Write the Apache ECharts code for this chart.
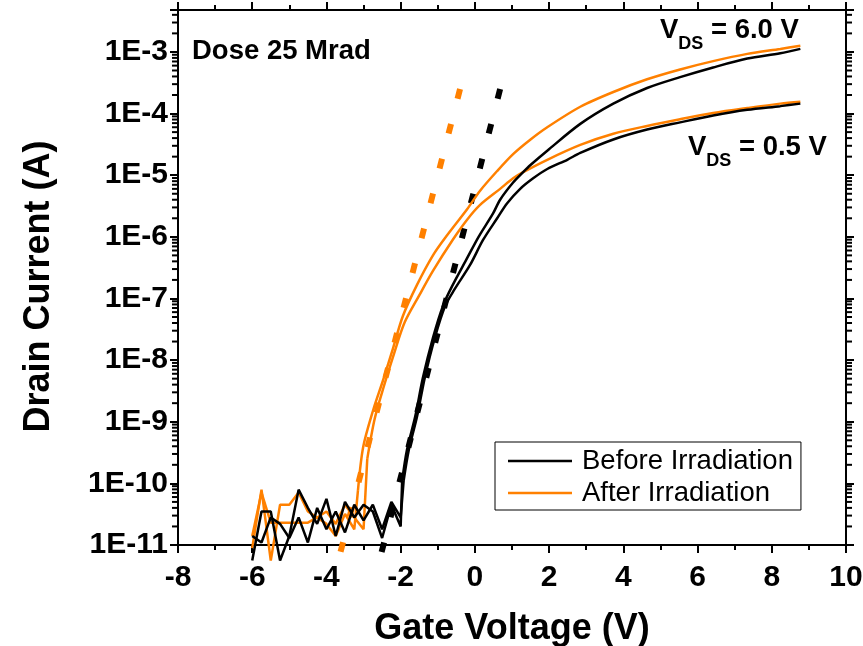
<!DOCTYPE html>
<html>
<head>
<meta charset="utf-8">
<script src="https://cdn.jsdelivr.net/npm/echarts@6/dist/echarts.min.js"></script>
<style>
html,body{margin:0;padding:0;background:#fff;}
#chart{width:863px;height:646px;}
</style>
</head>
<body>
<div id="chart"></div>
<script>
// ---- Data ----
const xTicks = [-8, -6, -4, -2, 0, 2, 4, 6, 8, 10];
const yTickExponents = [-11, -10, -9, -8, -7, -6, -5, -4, -3];

// Before irradiation, V_DS = 6.0 V : off-state (noise) part and turn-on part
const vgBefore6Off = [-6, -5.75, -5.5, -5.25, -5, -4.75, -4.5, -4.25, -4, -3.75, -3.5, -3.25, -3, -2.75, -2.5, -2.25, -2.0, -1.96];
const idBefore6Off = [5.6e-12, 3.5e-11, 3.5e-11, 5.6e-12, 1.4e-11, 7.9e-11, 4.0e-11, 2.2e-11, 5.6e-11, 1.4e-11, 5.0e-11, 2.8e-11, 4.5e-11, 3.5e-11, 1.3e-11, 4.5e-11, 2.0e-11, 1.1e-10];
const vgBefore6On = [-1.96, -1.83, -1.61, -1.40, -1.13, -0.86, -0.61, -0.21, 0.1, 0.49, 0.68, 1.03, 1.3, 1.49, 1.95, 2.84, 3.73, 4.64, 5.53, 6.42, 7.34, 8.23, 8.77];
const idBefore6On = [1.1e-10, 3.5e-10, 1.2e-9, 5.2e-9, 2.3e-8, 7.6e-8, 1.6e-7, 4.5e-7, 1.0e-6, 2.4e-6, 4.0e-6, 7.6e-6, 1.12e-5, 1.45e-5, 2.5e-5, 6.8e-5, 1.45e-4, 2.6e-4, 3.9e-4, 5.6e-4, 7.8e-4, 9.5e-4, 1.12e-3];

// Before irradiation, V_DS = 0.5 V
const vgBefore05Off = [-6, -5.75, -5.5, -5.25, -5, -4.75, -4.5, -4.25, -4, -3.75, -3.5, -3.25, -3, -2.75, -2.5, -2.25, -2.0, -1.92];
const idBefore05Off = [1.4e-11, 1.1e-11, 2.8e-11, 2.2e-11, 1.3e-11, 2.8e-11, 1.1e-11, 4.0e-11, 1.8e-11, 3.5e-11, 1.6e-11, 4.5e-11, 2.5e-11, 4.5e-11, 1.8e-11, 5.0e-11, 2.8e-11, 1.1e-10];
const vgBefore05On = [-1.92, -1.78, -1.56, -1.35, -1.08, -0.80, -0.55, -0.13, 0.22, 0.6, 0.87, 1.22, 1.57, 1.95, 2.49, 2.84, 3.73, 4.64, 5.53, 6.42, 7.34, 8.23, 8.77];
const idBefore05On = [1.1e-10, 3.5e-10, 1.2e-9, 5.2e-9, 2.3e-8, 7.6e-8, 1.4e-7, 3.5e-7, 8.9e-7, 2.0e-6, 3.5e-6, 6.0e-6, 8.9e-6, 1.26e-5, 1.78e-5, 2.3e-5, 3.8e-5, 5.5e-5, 7.2e-5, 9.3e-5, 1.15e-4, 1.32e-4, 1.45e-4];

// After irradiation, V_DS = 6.0 V
const vgAfter6Off = [-6, -5.75, -5.5, -5.25, -5, -4.75, -4.5, -4.25, -4, -3.75, -3.5, -3.25, -3.15];
const idAfter6Off = [8.9e-12, 7.9e-11, 5.6e-12, 4.5e-11, 4.5e-11, 7.1e-11, 3.5e-11, 2.8e-11, 2.2e-11, 1.4e-11, 3.2e-11, 1.8e-11, 7.8e-11];
const vgAfter6On = [-3.15, -3.01, -2.74, -2.47, -2.20, -1.94, -1.56, -1.13, -0.78, -0.21, 0.14, 0.6, 1.03, 1.5, 1.95, 2.84, 3.73, 4.64, 5.53, 6.42, 7.34, 8.23, 8.77];
const idAfter6On = [7.8e-11, 3.9e-10, 1.55e-9, 4.8e-9, 1.6e-8, 5.2e-8, 1.66e-7, 5.0e-7, 1.0e-6, 2.8e-6, 5.6e-6, 1.17e-5, 2.2e-5, 3.8e-5, 6.0e-5, 1.29e-4, 2.24e-4, 3.6e-4, 5.2e-4, 7.1e-4, 9.3e-4, 1.12e-3, 1.26e-3];

// After irradiation, V_DS = 0.5 V
const vgAfter05Off = [-6, -5.75, -5.5, -5.25, -5, -4.75, -4.5, -4.25, -4, -3.75, -3.5, -3.25, -3.0, -2.9];
const idAfter05Off = [1.4e-11, 7.1e-11, 2.3e-11, 2.3e-11, 2.3e-11, 2.3e-11, 2.3e-11, 2.8e-11, 3.5e-11, 2.2e-11, 4.5e-11, 2.8e-11, 1.8e-11, 2.5e-10];
const vgAfter05On = [-2.9, -2.70, -2.45, -2.18, -1.90, -1.50, -1.13, -0.6, -0.21, 0.14, 0.68, 1.03, 1.3, 1.95, 2.84, 3.73, 4.64, 5.53, 6.42, 7.34, 8.23, 8.77];
const idAfter05On = [2.5e-10, 1.12e-9, 3.8e-9, 1.26e-8, 4.0e-8, 1.12e-7, 2.8e-7, 8.9e-7, 1.9e-6, 3.3e-6, 6.0e-6, 8.9e-6, 1.12e-5, 1.78e-5, 3.1e-5, 4.7e-5, 6.3e-5, 8.1e-5, 1.02e-4, 1.23e-4, 1.45e-4, 1.55e-4];

// Subthreshold slope fit lines (end points)
const vgFitBefore = [0.68, -2.55];
const idFitBefore = [2.5e-4, 6.3e-12];
const vgFitAfter = [-0.40, -3.68];
const idFitAfter = [2.5e-4, 5.6e-12];

const yMin = 1e-11, yMax = 4.79e-3;
// ---- end data ----

const FONT = "'Liberation Sans', Arial, sans-serif";
const ORANGE = '#FF8000';
const pairs = (xs, ys) => xs.map((x, i) => [x, ys[i]]);
const xL = xTicks[0], xR = xTicks[xTicks.length - 1];

// log minor tick values 2..9 x 10^n
const minorTickVals = [];
for (let e = yTickExponents[0]; e <= yTickExponents[yTickExponents.length - 1]; e++) {
  for (let m = 2; m <= 9; m++) {
    const v = m * Math.pow(10, e);
    if (v < yMax) minorTickVals.push(v);
  }
}

const chart = echarts.init(document.getElementById('chart'), null, {renderer: 'canvas'});

function xAxisCfg(pos, showLabel) {
  return {
    type: 'value', position: pos, min: xL, max: xR, interval: 2,
    axisLine: {show: true, onZero: false, lineStyle: {color: '#000', width: 2}},
    axisTick: {show: true, length: 8, lineStyle: {color: '#000', width: 2}},
    minorTick: {show: true, splitNumber: 2, length: 5, lineStyle: {color: '#000', width: 2}},
    splitLine: {show: false}, minorSplitLine: {show: false},
    axisLabel: {show: showLabel, margin: 18, color: '#000', fontFamily: FONT, fontWeight: 'bold', fontSize: 30},
    name: showLabel ? 'Gate Voltage (V)' : '',
    nameLocation: 'middle', nameGap: 66,
    nameTextStyle: {color: '#000', fontFamily: FONT, fontWeight: 'bold', fontSize: 36}
  };
}
function yAxisCfg(pos, showLabel) {
  return {
    type: 'log', logBase: 10, position: pos, min: yMin, max: yMax, splitNumber: 10,
    axisLine: {show: true, onZero: false, lineStyle: {color: '#000', width: 2}},
    axisTick: {show: true, length: 8, lineStyle: {color: '#000', width: 2}},
    splitLine: {show: false},
    axisLabel: {
      show: showLabel, margin: 10, color: '#000', fontFamily: FONT, fontWeight: 'bold', fontSize: 30,
      formatter: function (v) {
        const e = Math.log10(v), r = Math.round(e);
        return Math.abs(e - r) < 1e-6 ? '1E' + r : '';
      }
    },
    name: showLabel ? 'Drain Current (A)' : '',
    nameLocation: 'middle', nameGap: 121,
    nameTextStyle: {color: '#000', fontFamily: FONT, fontWeight: 'bold', fontSize: 36, padding: [0, 18, 0, 0]}
  };
}

function lineSeries(name, xs, ys, color, smooth) {
  return {
    name: name, type: 'line', data: pairs(xs, ys), showSymbol: false, symbol: 'none', clip: false,
    smooth: smooth ? 0.3 : false,
    lineStyle: {color: color, width: 2.5}, itemStyle: {color: color}, z: 3
  };
}
function fitSeries(name, xs, ys, color) {
  return {
    name: name, type: 'line', data: pairs(xs, ys), showSymbol: false, symbol: 'none', clip: false,
    lineStyle: {color: color, width: 6, type: [10, 26]}, itemStyle: {color: color}, z: 2
  };
}

// measure text for the subscript labels
const mctx = document.createElement('canvas').getContext('2d');
function tw(text, size) { mctx.font = 'bold ' + size + 'px ' + FONT; return mctx.measureText(text).width; }
function vdsLabel(x, baseline, rest) {
  const big = 27.5, small = 18;
  const wV = tw('V', big), wDS = tw('DS', small);
  const mk = (t, xx, y, s) => ({type: 'text', x: xx, y: y, style: {text: t, fill: '#000', font: 'bold ' + s + 'px ' + FONT, verticalAlign: 'middle'}});
  return [
    mk('V', x, baseline - 0.358 * big, big),
    mk('DS', x + wV, baseline + 10 - 0.358 * small, small),
    mk(rest, x + wV + wDS, baseline - 0.358 * big, big)
  ];
}

const baseGraphic = [
  {type: 'text', x: 192, y: 51, style: {text: 'Dose 25 Mrad', fill: '#000', font: 'bold 27.5px ' + FONT, verticalAlign: 'middle'}},
  ...vdsLabel(660, 40, ' = 6.0 V'),
  ...vdsLabel(688, 157, ' = 0.5 V')
];

const option = {
  animation: false,
  backgroundColor: '#ffffff',
  grid: {left: 178, top: 10, width: 668, height: 535, outerBoundsMode: 'none'},
  xAxis: [xAxisCfg('bottom', true), xAxisCfg('top', false)],
  yAxis: [yAxisCfg('left', true), yAxisCfg('right', false)],
  legend: {
    show: true, orient: 'vertical', left: 495, top: 442,
    data: ['Before Irradiation', 'After Irradiation'],
    icon: 'rect', itemWidth: 64, itemHeight: 2.5, itemGap: 2,
    borderColor: '#000', borderWidth: 1, padding: [4, 8, 2, 13],
    textStyle: {color: '#000', fontFamily: FONT, fontSize: 27.5, lineHeight: 30, padding: [0, 0, 0, 5]}
  },
  graphic: baseGraphic,
  series: [
    fitSeries('fitAfter', vgFitAfter, idFitAfter, ORANGE),
    fitSeries('fitBefore', vgFitBefore, idFitBefore, '#000'),
    lineSeries('After Irradiation', vgAfter6Off, idAfter6Off, ORANGE, false),
    lineSeries('After Irradiation', vgAfter6On, idAfter6On, ORANGE, true),
    lineSeries('After Irradiation', vgAfter05Off, idAfter05Off, ORANGE, false),
    lineSeries('After Irradiation', vgAfter05On, idAfter05On, ORANGE, true),
    lineSeries('Before Irradiation', vgBefore6Off, idBefore6Off, '#000', false),
    lineSeries('Before Irradiation', vgBefore6On, idBefore6On, '#000', true),
    lineSeries('Before Irradiation', vgBefore05Off, idBefore05Off, '#000', false),
    lineSeries('Before Irradiation', vgBefore05On, idBefore05On, '#000', true)
  ]
};
chart.setOption(option);

// log minor ticks on the left and right y axes, positioned through the chart's own log scale
const tickEls = [];
minorTickVals.forEach(function (v) {
  const pL = chart.convertToPixel({seriesIndex: 2}, [xL, v]);
  const pR = chart.convertToPixel({seriesIndex: 2}, [xR, v]);
  if (!pL || !pR || !isFinite(pL[1])) return;
  tickEls.push({type: 'rect', z: 100, silent: true,
    shape: {x: pL[0] - 6, y: pL[1] - 1, width: 6, height: 2}, style: {fill: '#000'}});
  tickEls.push({type: 'rect', z: 100, silent: true,
    shape: {x: pR[0], y: pR[1] - 1, width: 6, height: 2}, style: {fill: '#000'}});
});
chart.setOption({graphic: baseGraphic.concat(tickEls)});
</script>
</body>
</html>
